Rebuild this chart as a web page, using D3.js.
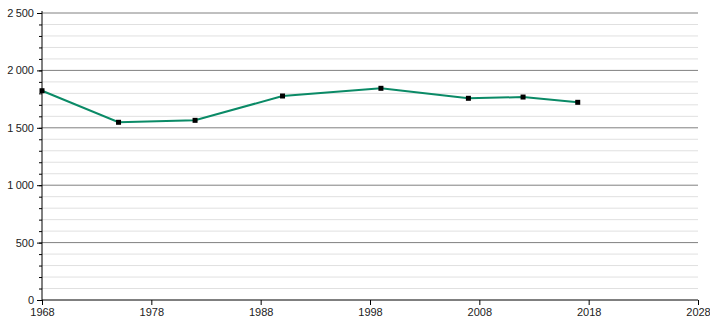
<!DOCTYPE html>
<html>
<head>
<meta charset="utf-8">
<script src="https://cdn.jsdelivr.net/npm/d3@7"></script>
<style>
  body { margin: 0; background: #fff; }
  text { font-family: "Liberation Sans", Arial, sans-serif; }
</style>
</head>
<body>
<div id="chart"></div>
<script>
// Population by census year
const years = [1968, 1975, 1982, 1990, 1999, 2007, 2012, 2017];
const population = [1823, 1548, 1565, 1777, 1844, 1757, 1768, 1722];
const xTicks = [1968, 1978, 1988, 1998, 2008, 2018, 2028];
const yTicks = [0, 500, 1000, 1500, 2000, 2500];

const data = years.map((y, i) => ({year: y, value: population[i]}));

const width = 710, height = 320;
const margins = {top: 13, right: 12, bottom: 20, left: 42};

const svg = d3.select("#chart")
  .append("svg")
  .attr("width", width)
  .attr("height", height);

const xScale = d3.scaleLinear()
  .domain([1968, 2028])
  .range([margins.left, width - margins.right]);

const yScale = d3.scaleLinear()
  .domain([0, 2500])
  .range([height - margins.bottom, margins.top]);

const fmt = v => d3.format(",")(v).replace(/,/g, "\u202f");

/* Minor gridlines every 100 */
svg.append("g")
  .selectAll("line")
  .data(d3.range(100, 2501, 100).filter(v => v % 500 !== 0))
  .join("line")
    .attr("x1", margins.left)
    .attr("x2", width - margins.right)
    .attr("y1", d => yScale(d))
    .attr("y2", d => yScale(d))
    .attr("stroke", "#e0e0e0")
    .attr("stroke-width", 1);

/* Major gridlines */
svg.append("g")
  .selectAll("line")
  .data(yTicks.filter(v => v > 0))
  .join("line")
    .attr("x1", margins.left)
    .attr("x2", width - margins.right)
    .attr("y1", d => yScale(d))
    .attr("y2", d => yScale(d))
    .attr("stroke", "#808080")
    .attr("stroke-width", 1);

/* Y axis with minor ticks */
const yMinor = svg.append("g")
  .attr("transform", `translate(${margins.left},0)`)
  .call(d3.axisLeft(yScale).tickValues(d3.range(0, 2501, 100)).tickSize(3).tickFormat(""));
yMinor.select(".domain").remove();

svg.append("g")
  .attr("transform", `translate(${margins.left},0)`)
  .call(d3.axisLeft(yScale).tickValues(yTicks).tickSize(5).tickPadding(3).tickFormat(fmt))
  .call(g => g.select(".domain").attr("d", `M0,${yScale(0)}V${yScale(2500) - 2}`))
  .call(g => g.selectAll("text").style("font-size", "11px").attr("fill", "#222"));

/* X axis */
svg.append("g")
  .attr("transform", `translate(0,${height - margins.bottom})`)
  .call(d3.axisBottom(xScale).tickValues(xTicks).tickSize(5).tickPadding(3).tickFormat(d3.format("d")))
  .call(g => g.selectAll("text").style("font-size", "11px").attr("fill", "#222"))
  .call(g => g.select(".domain").attr("d", `M${margins.left},0H${width - margins.right}`));

/* Population line */
const line = d3.line()
  .x(d => xScale(d.year))
  .y(d => yScale(d.value));

svg.append("path")
  .datum(data)
  .attr("d", line)
  .attr("fill", "none")
  .attr("stroke", "#0a8a66")
  .attr("stroke-width", 2);

/* Markers */
svg.append("g")
  .selectAll("rect")
  .data(data)
  .join("rect")
    .attr("x", d => xScale(d.year) - 2.5)
    .attr("y", d => yScale(d.value) - 2.5)
    .attr("width", 5)
    .attr("height", 5)
    .attr("fill", "#000");
</script>
</body>
</html>
